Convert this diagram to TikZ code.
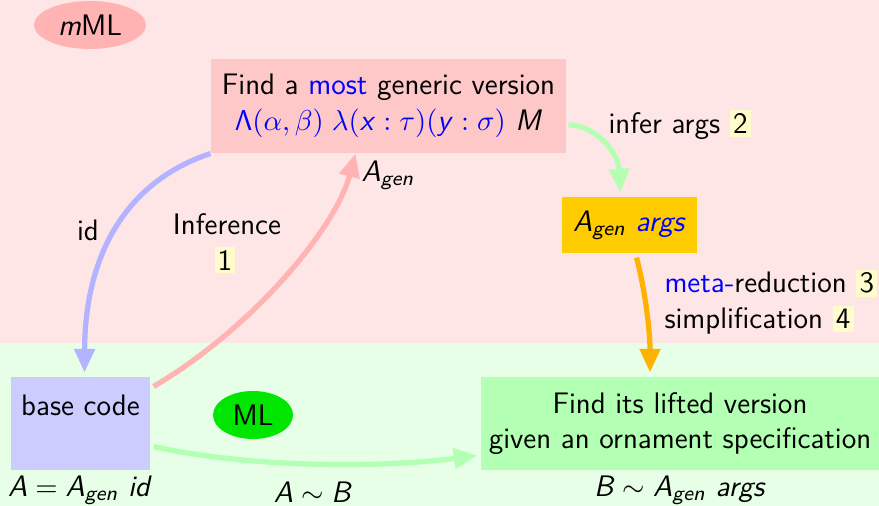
\documentclass[tikz,border=0pt]{standalone}
\usepackage{amsmath}
\usetikzlibrary{arrows.meta,shapes.geometric,calc}
\newcommand\sfi[1]{\textsf{\textit{#1}}}
\newcommand\numbox[1]{{\setlength{\fboxsep}{1.2pt}\colorbox{yellow!20}{#1}}}
\definecolor{bgtop}{RGB}{255,230,230}
\definecolor{bgbot}{RGB}{230,255,230}
\definecolor{topbox}{RGB}{255,200,200}
\definecolor{mmlfill}{RGB}{255,179,179}
\definecolor{argsbox}{RGB}{255,204,0}
\definecolor{botbox}{RGB}{179,255,179}
\definecolor{basebox}{RGB}{204,204,255}
\definecolor{mlfill}{RGB}{0,230,0}
\definecolor{arrblue}{RGB}{179,179,255}
\definecolor{arrred}{RGB}{255,179,179}
\definecolor{arrgreen}{RGB}{179,255,179}
\definecolor{arrorange}{RGB}{255,179,0}
\begin{document}
\begin{tikzpicture}[x=0.381pt,y=-0.381pt,
  every node/.style={font=\sffamily\fontsize{11.3}{13.6}\selectfont},
  box/.style={rectangle,inner sep=0pt,align=center},
  conn/.style={line width=2pt,-{Triangle[length=9pt,width=7.6pt]}},
  lbl/.style={inner sep=0pt}]
\useasboundingbox (0,0) rectangle (879,506);
\fill[bgtop] (0,0) rectangle (879,343);
\fill[bgbot] (0,343) rectangle (879,506);

\node[ellipse,fill=mmlfill,minimum width={112*0.381pt},minimum height={48*0.381pt},inner sep=0pt] (mml) at (90,25) {\sfi{m}ML};
\node[ellipse,fill=mlfill,minimum width={80*0.381pt},minimum height={48*0.381pt},inner sep=0pt] (ml) at (253,415) {ML};

\node[box,fill=topbox,minimum width={355*0.381pt},minimum height={94*0.381pt}] (top) at (388.5,106)
  {Find a \textcolor{blue}{most} generic version\\
   \textcolor{blue}{$\mathsf{\Lambda}(\alpha,\beta)\;\lambda(\sfi{x}:\tau)(\sfi{y}:\sigma)$}~$\sfi{M}$};
\node[lbl] (toplbl) at (388,175) {$\sfi{A}_{\sfi{gen}}$};

\node[box,fill=argsbox,minimum width={135*0.381pt},minimum height={56*0.381pt}] (args) at (629.5,225)
  {$\sfi{A}_{\sfi{gen}}$ \textcolor{blue}{\sfi{args}}};

\node[box,fill=botbox,minimum width={398*0.381pt},minimum height={93*0.381pt}] (lift) at (680,423.5)
  {Find its lifted version\\given an ornament specification};
\node[lbl] (liftlbl) at (680,490) {$\sfi{B}\sim\sfi{A}_{\sfi{gen}}\ \sfi{args}$};

\node[box,fill=basebox,minimum width={139*0.381pt},minimum height={93*0.381pt}] (base) at (80.5,423.5)
  {base code\\\mbox{}};
\node[lbl] (baselbl) at (80,490) {$\sfi{A}=\sfi{A}_{\sfi{gen}}\ \sfi{id}$};

\draw[conn,arrblue] (top.south west) .. controls (130,180) and (85,250) .. ($(base.north)+(4,-4)$);
\node[lbl] (idl) at (88,230) {id};

\draw[conn,arrred] ($(base.north east)+(3,10)$) .. controls (250,330) and (335,230) .. ($(top.south)+(-33,0)$);
\node[lbl] (infl) at (227,224) {Inference};
\node[lbl] (n1) at (225,260) {\numbox{1}};

\draw[conn,arrgreen] ($(top.east)+(2,19)$) .. controls (592,124) and (618,150) .. ($(args.north)+(-9,-4)$);
\node[lbl,anchor=west] (infa) at (608,125) {infer args \numbox{2}};

\draw[conn,arrorange] ($(args.south)+(7,4)$) .. controls (645,290) and (650,330) .. ($(lift.north)+(-30,-4)$);
\node[lbl,anchor=west,align=left] (meta) at (664,302)
  {\textcolor{blue}{meta-}reduction \numbox{3}\\simplification \numbox{4}};

\draw[conn,arrgreen] ($(base.east)+(3,23)$) .. controls (250,468) and (380,468) .. ($(lift.west)+(-3,32)$);
\node[lbl] (siml) at (313,492) {$\sfi{A}\sim\sfi{B}$};
\end{tikzpicture}
\end{document}
